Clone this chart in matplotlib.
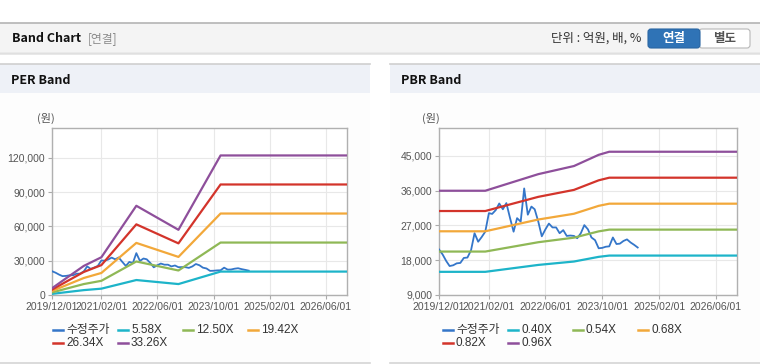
import numpy as np
import pandas as pd
import matplotlib
matplotlib.use("Agg")
from matplotlib import pyplot as plt
from matplotlib.patches import Rectangle, FancyBboxPatch
from matplotlib.ticker import FuncFormatter

plt.rcParams['font.family'] = ['Liberation Sans', 'Noto Sans CJK KR']

# ---- data ----
price_dates = pd.date_range('2019-12-01', periods=57, freq='MS')
price = [20800, 19500, 17800, 16500, 16700, 17200, 17300, 18600, 18700, 20600,
         25000, 22800, 24000, 25400, 30200, 30000, 31000, 32700, 31200, 32800,
         29000, 25400, 28900, 28000, 36600, 29800, 31900, 31200, 28000, 24200,
         26000, 27500, 26500, 26500, 25000, 25800, 24300, 24400, 24300, 23700,
         25000, 27100, 26000, 23900, 23200, 21100, 21200, 21500, 21600, 23900,
         22200, 22300, 23000, 23400, 22600, 22000, 21300]

per_dates = pd.to_datetime(['2019-12-01', '2020-04-01', '2020-09-01', '2021-02-01',
                            '2021-12-01', '2022-12-01', '2023-12-01', '2026-12-01'])
per_labels = ['5.58X', '12.50X', '19.42X', '26.34X', '33.26X']
per_bands = [
    [990, 2450, 4260, 5540, 13090, 9560, 20470, 20470],
    [2210, 5490, 9550, 12400, 29310, 21430, 45850, 45850],
    [3440, 8530, 14840, 19270, 45540, 33290, 71230, 71230],
    [4670, 11560, 20120, 26130, 61770, 45140, 96620, 96620],
    [5900, 14600, 25400, 33000, 78000, 57000, 122000, 122000],
]

pbr_dates = pd.to_datetime(['2019-12-01', '2021-01-01', '2022-04-01', '2023-02-01',
                            '2023-09-01', '2023-12-01', '2026-12-01'])
pbr_labels = ['0.40X', '0.54X', '0.68X', '0.82X', '0.96X']
pbr_bands = [
    [15000, 15000, 16790, 17670, 18880, 19210, 19210],
    [20250, 20250, 22670, 23850, 25480, 25930, 25930],
    [25500, 25500, 28550, 30040, 32090, 32650, 32650],
    [30750, 30750, 34420, 36220, 38700, 39380, 39380],
    [36000, 36000, 40300, 42400, 45300, 46100, 46100],
]

tick_dates = pd.to_datetime(['2019-12-01', '2021-02-01', '2022-06-01',
                             '2023-10-01', '2025-02-01', '2026-06-01'])
tick_labels = ['2019/12/01', '2021/02/01', '2022/06/01', '2023/10/01', '2025/02/01', '2026/06/01']

price_color = '#3476c9'
band_colors = ['#1db4c9', '#8fb856', '#f2a83a', '#d3342b', '#8e4f9b']

W, H = 760, 364
fig = plt.figure(figsize=(W / 100, H / 100), dpi=100)
fig.patch.set_facecolor('white')

# background canvas in pixel coords
bg = fig.add_axes([0, 0, 1, 1])
bg.set_xlim(0, W)
bg.set_ylim(H, 0)
bg.axis('off')

# top header
bg.add_patch(Rectangle((0, 22.5), W, 30.5, facecolor='#f4f4f4', edgecolor='none'))
bg.plot([0, W], [22.5, 22.5], color='#b4b4b4', lw=1.2)
bg.plot([0, W], [53, 53], color='#c4c4c4', lw=1.0)
bg.plot([0, W], [54.3, 54.3], color='#e6e6e6', lw=1.2)
bg.text(12, 38.5, 'Band Chart', fontsize=9, fontweight='bold', color='#111',
        va='center', family=['Noto Sans CJK KR'])
bg.text(88, 38.5, '[연결]', fontsize=8.5, color='#8a8a8a', va='center',
        family=['Noto Sans CJK KR'])
bg.text(641, 38.5, '단위 : 억원, 배, %', fontsize=9, color='#333', va='center',
        ha='right', family=['Noto Sans CJK KR'])
bg.add_patch(FancyBboxPatch((699, 29), 51, 19, boxstyle='round,pad=0,rounding_size=3',
                            facecolor='white', edgecolor='#b8b8b8', lw=0.8))
bg.add_patch(FancyBboxPatch((648, 29), 52, 19, boxstyle='round,pad=0,rounding_size=3',
                            facecolor='#2f73b6', edgecolor='#2a66a3', lw=0.8))
bg.text(674, 38.5, '연결', fontsize=9, color='white', fontweight='bold',
        ha='center', va='center', family=['Noto Sans CJK KR'])
bg.text(725, 38.5, '별도', fontsize=9, color='#555', fontweight='bold',
        ha='center', va='center', family=['Noto Sans CJK KR'])

# panels
for x0, x1, title in [(0, 370, 'PER Band'), (390, 760, 'PBR Band')]:
    bg.add_patch(Rectangle((x0, 93), x1 - x0, 269, facecolor='#fdfdfd', edgecolor='none'))
    bg.add_patch(Rectangle((x0, 64), x1 - x0, 29, facecolor='#eef1f7', edgecolor='none'))
    bg.plot([x0, x1], [64, 64], color='#cfcfcf', lw=1.2)
    bg.plot([x0, x1], [362.5, 362.5], color='#d4d4d4', lw=1.2)
    bg.text(x0 + 11, 80, title, fontsize=9, fontweight='bold', color='#111',
            va='center', family=['Noto Sans CJK KR'])


def draw_chart(rect, dates, bands, labels, ylim, yticks, unit_x, leg_x):
    ax = fig.add_axes([rect[0] / W, 1 - rect[3] / H, (rect[2] - rect[0]) / W,
                       (rect[3] - rect[1]) / H])
    ax.set_facecolor('white')
    ax.plot(price_dates, price, color=price_color, lw=1.3, zorder=3)
    for vals, c in zip(bands, band_colors):
        ax.plot(dates, vals, color=c, lw=1.6, zorder=4)
    ax.set_xlim(pd.Timestamp('2019-12-01'), pd.Timestamp('2026-12-01'))
    ax.set_ylim(*ylim)
    ax.set_yticks(yticks)
    ax.yaxis.set_major_formatter(FuncFormatter(lambda v, p: f'{int(v):,}'))
    ax.set_xticks(tick_dates)
    ax.set_xticklabels(tick_labels)
    ax.tick_params(labelsize=7.5, labelcolor='#555', color='#aaa', length=3, width=0.8, pad=2)
    ax.grid(True, color='#e8e8e8', lw=0.8)
    ax.set_axisbelow(True)
    for s in ax.spines.values():
        s.set_color('#b0b0b0')
        s.set_linewidth(1.0)
    bg.text(unit_x, 118, '(원)', fontsize=8, color='#555', va='center',
            family=['Noto Sans CJK KR'])
    # legend
    items = [('수정주가', price_color)] + list(zip(labels, band_colors))
    pos = [(0, 330), (65, 330), (130, 330), (195, 330), (0, 343), (65, 343)]
    for (txt, c), (dx, y) in zip(items, pos):
        x = leg_x + dx
        bg.plot([x, x + 10], [y, y], color=c, lw=1.8)
        bg.text(x + 13, y, txt, fontsize=8.5, color='#333', va='center')
    return ax


draw_chart((52, 128, 347, 295), per_dates, per_bands, per_labels, (0, 146000),
           [0, 30000, 60000, 90000, 120000], 37, 53)
draw_chart((439, 128, 737, 295), pbr_dates, pbr_bands, pbr_labels, (9000, 52250),
           [9000, 18000, 27000, 36000, 45000], 422, 443)

fig.savefig('out.png', dpi=100)
